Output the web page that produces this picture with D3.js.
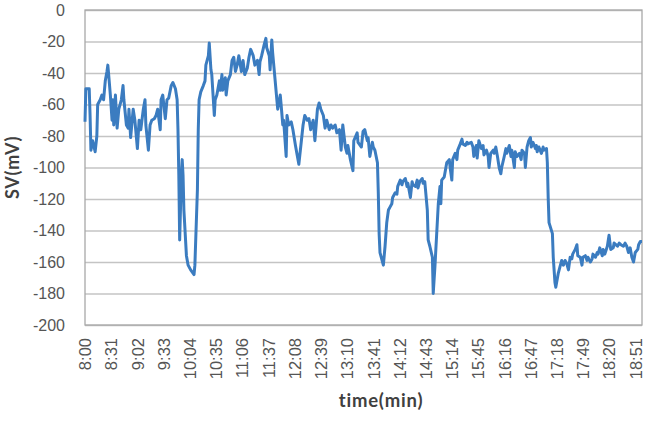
<!DOCTYPE html>
<html>
<head>
<meta charset="utf-8">
<script src="https://cdn.jsdelivr.net/npm/d3@7"></script>
<style>
  body { margin: 0; background: #fff; }
  svg { display: block; font-family: Lato, "Open Sans", sans-serif; }
</style>
</head>
<body>
<svg id="chart" width="651" height="431"></svg>
<script>
// minutes after 8:00
const minutes = [0,1,5,6,7,9,12,14,15,18,20,22,24,26,27,28,30,32,33,34,36,38,40,43,45,46,49,51,52,54,57,59,62,64,66,69,71,72,75,77,79,82,84,86,89,90,92,95,97,99,102,104,107,109,110,111,112,114,115,116,117,120,122,125,129,130,133,134,135,137,140,142,143,146,147,149,150,153,154,156,159,160,162,163,166,167,169,172,174,176,178,180,182,185,187,189,192,194,196,199,201,204,206,207,209,212,214,215,218,219,221,222,225,227,228,231,232,234,235,238,239,241,244,246,249,251,253,256,258,260,263,265,267,270,272,275,277,279,282,284,286,289,291,293,296,298,301,303,305,308,310,311,314,317,318,322,323,327,329,331,334,335,337,340,341,343,346,347,348,349,351,353,355,357,359,361,363,364,367,369,370,373,375,376,379,381,382,385,387,388,391,393,394,396,399,400,402,405,406,408,411,412,414,417,418,420,421,422,425,427,428,431,432,434,435,438,440,441,444,446,447,450,452,453,457,459,460,463,464,466,469,471,472,475,477,478,480,483,484,486,488,490,492,493,496,498,499,502,504,505,508,509,511,514,516,517,520,521,523,525,527,528,530,533,534,535,537,540,542,543,546,547,548,549,553,554,556,557,560,562,564,566,568,570,572,574,576,577,580,582,583,586,588,589,592,594,595,598,600,601,604,606,607,609,612,613,615,618,620,622,625,626,628,630,632,634,637,639,641,643,645,647,649,651,654,655,657,659];

// SV in mV
const sv = [-71,-50,-50,-67,-89,-83,-90,-80,-60,-57,-54,-57,-45,-39,-35,-41,-54,-70,-57,-73,-54,-75,-63,-57,-48,-57,-73,-75,-63,-81,-63,-70,-88,-70,-76,-63,-57,-73,-89,-73,-70,-69,-67,-63,-76,-57,-54,-69,-57,-56,-48,-46,-50,-57,-76,-105,-146,-105,-95,-105,-127,-156,-162,-165,-168,-162,-114,-76,-57,-52,-48,-45,-35,-29,-21,-38,-41,-67,-57,-54,-45,-51,-41,-51,-43,-54,-45,-41,-32,-30,-39,-35,-29,-39,-32,-41,-37,-30,-25,-29,-35,-32,-41,-33,-29,-22,-18,-24,-29,-38,-19,-27,-45,-57,-63,-54,-60,-73,-70,-93,-67,-73,-71,-76,-86,-92,-98,-83,-73,-67,-70,-69,-76,-70,-83,-63,-59,-63,-67,-75,-70,-76,-73,-75,-73,-78,-76,-89,-73,-87,-91,-86,-95,-102,-83,-78,-84,-87,-77,-76,-83,-81,-93,-84,-87,-89,-97,-116,-142,-154,-158,-162,-150,-135,-127,-125,-123,-119,-116,-117,-112,-108,-111,-109,-107,-112,-110,-119,-109,-111,-112,-108,-113,-109,-107,-110,-109,-127,-146,-150,-157,-180,-163,-133,-123,-112,-123,-108,-106,-100,-97,-95,-100,-108,-95,-91,-95,-89,-85,-82,-85,-86,-84,-85,-84,-87,-93,-86,-94,-83,-88,-86,-92,-89,-93,-100,-91,-89,-91,-87,-93,-100,-104,-100,-93,-88,-91,-86,-93,-89,-100,-90,-93,-91,-95,-89,-91,-100,-87,-83,-81,-87,-84,-88,-86,-90,-87,-91,-87,-89,-88,-97,-119,-135,-142,-157,-173,-176,-167,-163,-159,-162,-159,-161,-165,-157,-158,-155,-152,-149,-156,-157,-162,-157,-156,-159,-157,-160,-158,-155,-157,-154,-155,-151,-156,-152,-155,-150,-143,-152,-151,-148,-149,-150,-148,-149,-150,-148,-150,-154,-151,-157,-160,-154,-152,-149,-147,-147];

const timeLabels = ["8:00","8:31","9:02","9:33","10:04","10:35","11:06","11:37","12:08","12:39","13:10","13:41","14:12","14:43","15:14","15:45","16:16","16:47","17:18","17:49","18:20","18:51"];
const yTicks = [0,-20,-40,-60,-80,-100,-120,-140,-160,-180,-200];

const width = 651, height = 431;
const margin = { top: 10, right: 9, bottom: 106, left: 85 };
const svg = d3.select("#chart");

const toMin = s => { const [h, m] = s.split(":").map(Number); return (h - 8) * 60 + m; };

const x = d3.scaleLinear()
    .domain([0, 659])
    .range([margin.left, width - margin.right]);

const y = d3.scaleLinear()
    .domain([-200, 0])
    .range([height - margin.bottom, margin.top]);

// gridlines
svg.append("g")
    .attr("transform", `translate(${margin.left},0)`)
    .call(d3.axisLeft(y)
        .tickValues(yTicks)
        .tickSize(-(width - margin.left - margin.right))
        .tickFormat(""))
    .call(g => g.select(".domain").remove())
    .selectAll("line")
    .attr("stroke", "#c4c4c4")
    .attr("stroke-width", 1.4);

// plot border
svg.append("rect")
    .attr("x", margin.left)
    .attr("y", margin.top)
    .attr("width", width - margin.left - margin.right)
    .attr("height", height - margin.top - margin.bottom)
    .attr("fill", "none")
    .attr("stroke", "#a8a8a8")
    .attr("stroke-width", 1.3);

// y axis labels (plain hyphen like the original)
svg.append("g")
    .attr("transform", `translate(${margin.left},0)`)
    .call(d3.axisLeft(y).tickValues(yTicks).tickSize(0).tickPadding(20)
        .tickFormat(d => String(d)))
    .call(g => g.select(".domain").remove())
    .selectAll("text")
    .attr("fill", "#555")
    .style("font-size", "16px");

// x axis labels
svg.append("g")
    .attr("transform", `translate(0,${height - margin.bottom})`)
    .call(d3.axisBottom(x)
        .tickValues(timeLabels.map(toMin))
        .tickFormat((d, i) => timeLabels[i])
        .tickSize(0))
    .call(g => g.select(".domain").remove())
    .selectAll("text")
    .attr("transform", "rotate(-90)")
    .attr("text-anchor", "end")
    .attr("x", -13)
    .attr("y", 0)
    .attr("dy", "0.35em")
    .attr("fill", "#555")
    .style("font-size", "16.5px");

// the series
const line = d3.line()
    .x((d, i) => x(minutes[i]))
    .y(d => y(d));

svg.append("path")
    .datum(sv)
    .attr("fill", "none")
    .attr("stroke", "#3b7cc0")
    .attr("stroke-width", 3)
    .attr("stroke-linejoin", "round")
    .attr("d", line);

// axis titles
svg.append("text")
    .attr("transform", `translate(19,${(margin.top + height - margin.bottom) / 2}) rotate(-90)`)
    .attr("text-anchor", "middle")
    .attr("fill", "#404040")
    .style("font-size", "18px")
    .style("letter-spacing", "0.8px")
    .style("font-weight", "bold")
    .text("SV(mV)");

svg.append("text")
    .attr("x", 381)
    .attr("y", 407)
    .attr("text-anchor", "middle")
    .attr("fill", "#404040")
    .style("font-size", "18.5px")
    .style("letter-spacing", "0.8px")
    .style("font-weight", "bold")
    .text("time(min)");
</script>
</body>
</html>
